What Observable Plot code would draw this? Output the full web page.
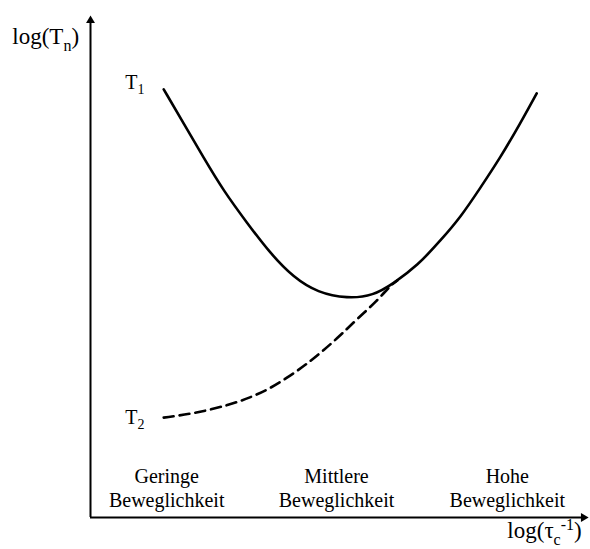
<!DOCTYPE html>
<html>
<head>
<meta charset="utf-8">
<script src="https://cdn.jsdelivr.net/npm/d3@7"></script>
<script src="https://cdn.jsdelivr.net/npm/@observablehq/plot@0.6"></script>
<style>
  body { margin: 0; background: #fff; }
  #chart svg { display: block; }
</style>
</head>
<body>
<div id="chart"></div>
<script>
// Relaxation times T1 and T2 versus correlation rate, both on log scales (arbitrary units)
const xDomain = [0, 10];
const yDomain = [0, 10];

// T1 curve: passes through a minimum at intermediate mobility
const t1X = [1.47, 1.87, 2.27, 2.67, 3.15, 3.61, 4.08, 4.56, 5.16, 5.68, 6.08, 6.57, 7.03, 7.43, 7.83, 8.23, 8.63, 8.96];
const t1Y = [8.53, 7.85, 7.17, 6.51, 5.86, 5.26, 4.78, 4.48, 4.36, 4.42, 4.66, 5.02, 5.52, 5.98, 6.57, 7.17, 7.85, 8.45];

// T2 curve: rises monotonically and merges with T1
const t2X = [1.47, 2.07, 2.75, 3.21, 3.61, 4.02, 4.36, 4.68, 5.02, 5.36, 5.76, 6.02, 6.16];
const t2Y = [1.99, 2.07, 2.23, 2.39, 2.57, 2.83, 3.07, 3.33, 3.63, 3.96, 4.32, 4.62, 4.72];

// Mobility regimes along the x axis
const regimeLabels = ["Geringe\nBeweglichkeit", "Mittlere\nBeweglichkeit", "Hohe\nBeweglichkeit"];
const regimeX = [1.53, 4.94, 8.37];
const regimeY = 0.61;

// Curve names and axis titles (_{..} subscript, ^{..} superscript)
const curveLabels = ["T_{1}", "T_{2}"];
const curveLabelX = [0.70, 0.70];
const curveLabelY = [8.67, 2.00];
const axisTitles = ["log(T_{n})", "log(τ_{c}^{-1})"];
const axisTitleX = [-1.57, 8.37];
const axisTitleY = [9.57, -0.27];

const FONT = "'Liberation Serif', 'Times New Roman', serif";

const t1 = t1X.map((x, i) => ({x, y: t1Y[i]}));
const t2 = t2X.map((x, i) => ({x, y: t2Y[i]}));

const chart = Plot.plot({
  width: 590,
  height: 549,
  marginLeft: 90,
  marginRight: 2,
  marginTop: 15,
  marginBottom: 32,
  x: {domain: xDomain, axis: null},
  y: {domain: yDomain, axis: null},
  style: {fontFamily: FONT, background: "#fff", overflow: "visible"},
  marks: [
    // axes with filled arrowheads
    Plot.ruleX([xDomain[0]], {y1: yDomain[0], y2: yDomain[1] - 0.12, stroke: "#000", strokeWidth: 2}),
    Plot.ruleY([yDomain[0]], {x1: xDomain[0], x2: xDomain[1] - 0.12, stroke: "#000", strokeWidth: 2}),
    Plot.dot([0], {x: () => xDomain[0], y: () => yDomain[1] - 0.1, symbol: "triangle", r: 3.3, fill: "#000", stroke: "none"}),
    Plot.dot([0], {x: () => xDomain[1] - 0.1, y: () => yDomain[0], symbol: "triangle", r: 3.3, fill: "#000", stroke: "none", rotate: 90}),
    // curves
    Plot.line(t2, {x: "x", y: "y", curve: "basis", stroke: "#000", strokeWidth: 2.6, strokeDasharray: "10,6"}),
    Plot.line(t1, {x: "x", y: "y", curve: "basis", stroke: "#000", strokeWidth: 2.6}),
    // regime labels
    Plot.text(regimeLabels, {
      x: (d, i) => regimeX[i], y: () => regimeY, text: d => d,
      textAnchor: "middle", lineAnchor: "middle", lineHeight: 1.2,
      fontSize: 20, fontFamily: FONT, fill: "#000"
    }),
    // curve names
    Plot.text(curveLabels, {
      x: (d, i) => curveLabelX[i], y: (d, i) => curveLabelY[i], text: d => d,
      textAnchor: "start", lineAnchor: "middle", fontSize: 20, fontFamily: FONT, fill: "#000"
    }),
    // axis titles
    Plot.text(axisTitles, {
      x: (d, i) => axisTitleX[i], y: (d, i) => axisTitleY[i], text: d => d,
      textAnchor: "start", lineAnchor: "middle", fontSize: 23, fontFamily: FONT, fill: "#000"
    })
  ]
});

document.getElementById("chart").appendChild(chart);

// Turn _{..} and ^{..} markup into shifted, smaller tspans
d3.select(chart).selectAll("text").each(function () {
  const s = this.textContent;
  if (!/[_^]\{/.test(s) || this.querySelector("tspan")) return;
  const fs = parseFloat(getComputedStyle(this).fontSize) || 20;
  const small = Math.round(fs * 0.68);
  const el = d3.select(this);
  el.text(null);
  const re = /([_^])\{([^}]*)\}|([^_^]+)/g;
  let m, shift = 0;
  while ((m = re.exec(s))) {
    let target = 0, size = null, str;
    if (m[3] !== undefined) { str = m[3]; }
    else if (m[1] === "_") { str = m[2]; target = fs * 0.27; size = small; }
    else { str = m[2]; target = -fs * 0.36; size = small; }
    const ts = el.append("tspan").text(str);
    if (target - shift !== 0) ts.attr("dy", (target - shift).toFixed(1) + "px");
    if (size) ts.attr("font-size", size + "px");
    shift = target;
  }
});
</script>
</body>
</html>
